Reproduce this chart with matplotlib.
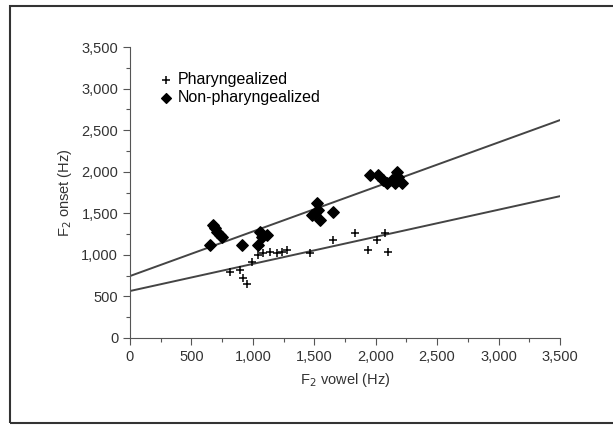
import numpy as np
import matplotlib
matplotlib.use("Agg")
import matplotlib.pyplot as plt
from matplotlib.ticker import MultipleLocator, FuncFormatter
from matplotlib.patches import Rectangle

# F2 vowel / F2 onset (Hz)
phar_vowel = [814, 895, 920, 952, 993, 1042, 1083, 1140, 1197, 1237, 1278,
              1465, 1652, 1831, 1937, 2010, 2076, 2100]
phar_onset = [794, 818, 722, 650, 914, 998, 1022, 1034, 1022, 1034, 1058,
              1022, 1179, 1263, 1058, 1179, 1263, 1034]

nonphar_vowel = [651, 676, 692, 708, 733, 749, 912, 1042, 1058, 1074, 1115,
                 1481, 1506, 1522, 1530, 1547, 1652,
                 1953, 2019, 2059, 2092, 2133, 2157, 2173, 2181, 2214]
nonphar_onset = [1119, 1359, 1323, 1275, 1239, 1215, 1119, 1119, 1275, 1215, 1239,
                 1479, 1503, 1624, 1539, 1419, 1515,
                 1961, 1961, 1900, 1864, 1900, 1864, 1997, 1937, 1864]

# regression lines (intercept, slope)
phar_fit = (565, 0.326)
nonphar_fit = (745, 0.536)

plt.rcParams["font.family"] = ["Liberation Sans", "DejaVu Sans"]

fig = plt.figure(figsize=(6.13, 4.26), dpi=100)
fig.patches.append(Rectangle((10 / 613, 3 / 426), 1.0, 417 / 426,
                             transform=fig.transFigure, fill=False,
                             edgecolor="#333333", linewidth=1.5))

ax = fig.add_axes([0.212, 0.2066, 0.7015, 0.683])

xs = np.array([0, 3500])
ax.plot(xs, nonphar_fit[0] + nonphar_fit[1] * xs, color="#444444", lw=1.4, zorder=1)
ax.plot(xs, phar_fit[0] + phar_fit[1] * xs, color="#444444", lw=1.4, zorder=1)

ax.scatter(phar_vowel, phar_onset, marker="+", s=40, color="black",
           linewidths=1.1, label="Pharyngealized", zorder=3)
ax.scatter(nonphar_vowel, nonphar_onset, marker="D", s=34, color="black",
           label="Non-pharyngealized", zorder=3)

ax.set_xlim(0, 3500)
ax.set_ylim(0, 3500)
for s in ("top", "right"):
    ax.spines[s].set_visible(False)
for s in ("left", "bottom"):
    ax.spines[s].set_color("#555555")

comma = FuncFormatter(lambda v, p: f"{int(v):,}")
for axis in (ax.xaxis, ax.yaxis):
    axis.set_major_locator(MultipleLocator(500))
    axis.set_minor_locator(MultipleLocator(250))
    axis.set_major_formatter(comma)
ax.tick_params(which="major", length=5, width=0.8, color="#555555",
               labelsize=10.5, labelcolor="#333333")
ax.tick_params(which="minor", length=3, width=0.8, color="#555555")

ax.set_xlabel("F$_2$ vowel (Hz)", fontsize=10.5, color="#333333", labelpad=5)
ax.set_ylabel("F$_2$ onset (Hz)", fontsize=10.5, color="#333333", labelpad=5)

ax.legend(loc="upper left", bbox_to_anchor=(0.055, 0.935), frameon=False,
          fontsize=11.5, handletextpad=0.3, labelspacing=0.15, handlelength=0.8,
          markerscale=0.85, borderaxespad=0)

fig.savefig("out.png", dpi=100)
